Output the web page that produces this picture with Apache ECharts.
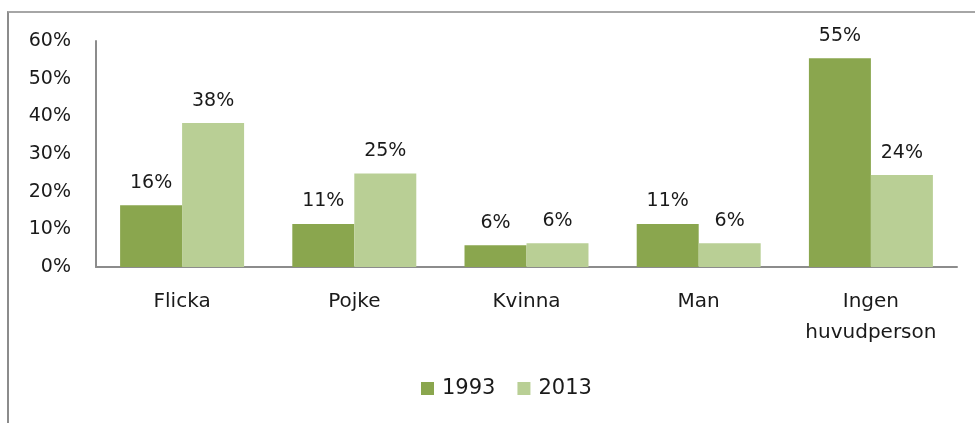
<!DOCTYPE html>
<html>
<head>
<meta charset="utf-8">
<script src="https://cdn.jsdelivr.net/npm/echarts@6/dist/echarts.min.js"></script>
<style>
	html, body { margin: 0; padding: 0; background: #fff; }
	/* ram runt diagrammet, bara vänster och överkant syns */
	#frame {
		position: absolute; left: 7px; top: 11px; width: 1000px; height: 450px;
		border-left: 2px solid #8c8c8c; border-top: 2px solid #a6a6a6;
	}
	#main { position: absolute; left: 0; top: 0; width: 975px; height: 423px; }
</style>
</head>
<body>
<div id="frame"></div>
<div id="main"></div>
<script type="text/javascript">
	// kategorier och värden (andel i procent)
	var categories = ['Flicka', 'Pojke', 'Kvinna', 'Man', 'Ingen\nhuvudperson'];
	var values1993 = [16.4, 11.4, 5.8, 11.4, 55.4];
	var values2013 = [38.2, 24.8, 6.3, 6.3, 24.4];
	var yTicks = [0, 10, 20, 30, 40, 50, 60];

	var font = 'DejaVu Sans';
	var chart = echarts.init(document.getElementById('main'));
	var labelOpt = {
		show: true,
		position: 'top',
		distance: 13,
		color: '#1a1a1a',
		fontFamily: font,
		fontSize: 19,
		formatter: function(p) { return Math.round(p.value) + '%'; }
	};
	chart.setOption({
		animation: false,
		grid: { left: 96, right: 18, top: 41, bottom: 156, containLabel: false },
		legend: {
			data: ['1993', '2013'],
			bottom: 19,
			left: 416,
			itemWidth: 13,
			itemHeight: 13,
			itemGap: 22,
			icon: 'rect',
			textStyle: { fontFamily: font, fontSize: 21, color: '#1a1a1a', padding: [0, 0, 0, 3] }
		},
		xAxis: {
			type: 'category',
			data: categories,
			axisLine: { lineStyle: { color: '#8c8c8c', width: 2 } },
			axisTick: { show: false },
			axisLabel: { margin: 19, fontFamily: font, fontSize: 20, color: '#1a1a1a', lineHeight: 31 }
		},
		yAxis: {
			type: 'value',
			min: yTicks[0],
			max: yTicks[yTicks.length - 1],
			interval: 10,
			axisLine: { show: true, lineStyle: { color: '#8c8c8c', width: 2 } },
			axisTick: { show: false },
			splitLine: { show: false },
			axisLabel: { margin: 25, fontFamily: font, fontSize: 19, color: '#1a1a1a', formatter: '{value}%' }
		},
		series: [{
			name: '1993',
			type: 'bar',
			data: values1993,
			barGap: '0%',
			barCategoryGap: '28%',
			itemStyle: { color: '#8aa64e' },
			label: labelOpt
		}, {
			name: '2013',
			type: 'bar',
			data: values2013,
			itemStyle: { color: '#b9cf95' },
			label: labelOpt
		}]
	});
</script>
</body>
</html>
